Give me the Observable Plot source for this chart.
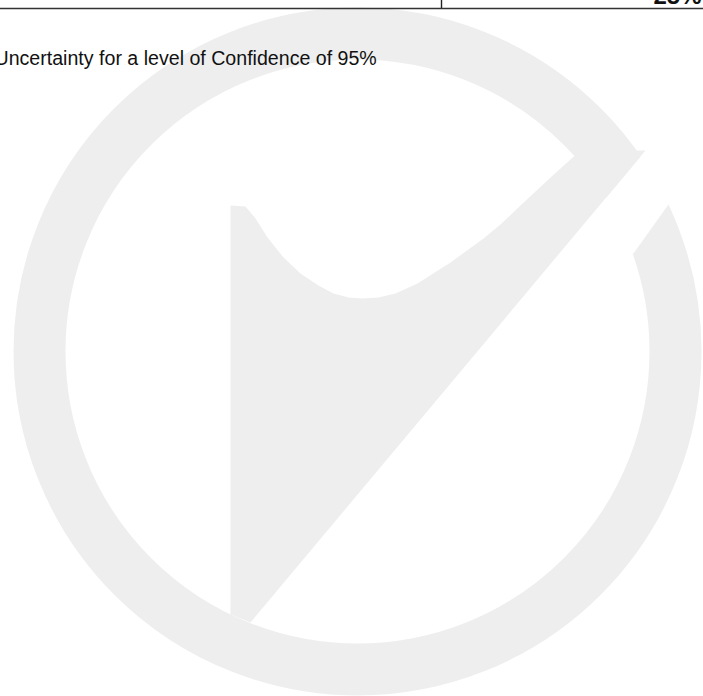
<!DOCTYPE html>
<html>
<head>
<meta charset="utf-8">
<script src="https://cdn.jsdelivr.net/npm/d3@7"></script>
<script src="https://cdn.jsdelivr.net/npm/@observablehq/plot@0.6"></script>
<style>
  html, body { margin: 0; padding: 0; background: #ffffff; overflow: hidden; }
  #chart svg { display: block; overflow: visible; }
</style>
</head>
<body>
<div id="chart"></div>
<script>
// ---- content ----
const headingText = ["Uncertainty for a level of Confidence of 95%"];
const tableCellText = ["25%"];

// ---- watermark logo outline (page units) ----
const ringCenterX = [357];
const ringCenterY = [351];

// gap in the ring (upper right)
const gapX = [633, 673, 693, 658, 645, 605, 600];
const gapY = [253, 197, 169, 135, 150, 198, 250];

// check-mark body: left stem, curved top, diagonal stroke
const checkX = [230, 230, 245, 255, 267, 283, 300, 318, 333, 348, 362, 378, 395, 417, 450, 483, 500, 520, 550, 580, 645, 250];
const checkY = [614, 205, 206, 218, 237, 257, 273, 285, 293, 297, 298, 297, 293, 283, 262, 238, 224, 205, 177, 150, 150, 622];

// table borders
const tableRuleY = [8];
const tableColX = [441];

const ring = ringCenterX.map((x, i) => ({x, y: ringCenterY[i]}));
const gap = gapX.map((x, i) => ({x, y: gapY[i]}));
const check = checkX.map((x, i) => ({x, y: checkY[i]}));

const grey = "#eeeeee";

const chart = Plot.plot({
  width: 703,
  height: 696,
  margin: 0,
  style: {background: "#ffffff", overflow: "visible"},
  x: {domain: [0, 703], range: [0, 703], axis: null},
  y: {domain: [0, 696], range: [0, 696], axis: null},
  marks: [
    Plot.dot(ring, {x: "x", y: "y", r: 318, stroke: grey, strokeWidth: 52, fill: "none"}),
    Plot.line(gap, {x: "x", y: "y", fill: "#ffffff", stroke: "none"}),
    Plot.line(check, {x: "x", y: "y", fill: grey, stroke: "none"}),
    Plot.ruleY(tableRuleY, {y: d => d, x1: 0, x2: 703, stroke: "#333333", strokeWidth: 1.6}),
    Plot.ruleX(tableColX, {x: d => d, y1: -20, y2: 8, stroke: "#222222", strokeWidth: 1.4}),
    Plot.text(tableCellText, {text: d => d, x: 653, y: 3.5, textAnchor: "start", lineAnchor: "bottom", fontSize: 24, fontWeight: "bold", fontFamily: "Liberation Sans, Arial, sans-serif", fill: "#111111"}),
    Plot.text(headingText, {text: d => d, x: -6, y: 64, textAnchor: "start", lineAnchor: "bottom", fontSize: 19.6, fontFamily: "Liberation Sans, Arial, sans-serif", fill: "#111111"})
  ]
});
document.getElementById("chart").appendChild(chart);
</script>
</body>
</html>
